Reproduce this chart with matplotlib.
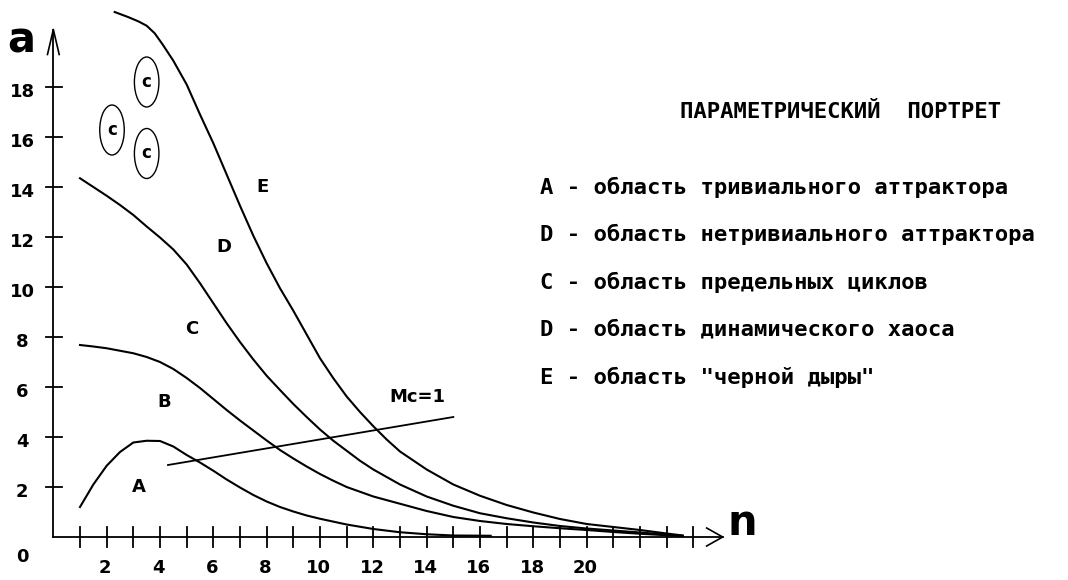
import matplotlib.pyplot as plt
from matplotlib.patches import Ellipse

# --- data (n along x, a along y) ---
n_A = [1.0, 1.5, 2.0, 2.5, 3.0, 3.5, 4.0, 4.5, 5.0, 5.5, 6.0, 6.5, 7.0, 7.5, 8.0,
       8.5, 9.0, 9.5, 10.0, 11.0, 12.0, 13.0, 14.0, 15.0, 16.4]
a_A = [1.2, 2.1, 2.85, 3.4, 3.78, 3.85, 3.84, 3.62, 3.28, 2.98, 2.65, 2.3, 1.98, 1.68, 1.42,
       1.2, 1.02, 0.86, 0.73, 0.5, 0.32, 0.19, 0.11, 0.06, 0.05]

n_B = [1.0, 1.5, 2.0, 2.5, 3.0, 3.5, 4.0, 4.5, 5.0, 5.5, 6.0, 6.5, 7.0, 7.5, 8.0, 8.5,
       9.0, 9.5, 10.0, 10.5, 11.0, 12.0, 13.0, 14.0, 15.0, 16.0, 17.0, 18.0, 19.0, 20.0,
       21.0, 22.0, 23.0, 23.6]
a_B = [7.68, 7.62, 7.55, 7.45, 7.35, 7.2, 7.0, 6.72, 6.36, 5.96, 5.52, 5.08, 4.66, 4.26, 3.86, 3.48,
       3.14, 2.82, 2.52, 2.25, 2.0, 1.62, 1.33, 1.04, 0.8, 0.64, 0.52, 0.43, 0.35, 0.28,
       0.2, 0.13, 0.07, 0.04]

n_C = [1.0, 1.5, 2.0, 2.5, 3.0, 3.5, 4.0, 4.5, 5.0, 5.5, 6.0, 6.5, 7.0, 7.5, 8.0, 8.5,
       9.0, 9.5, 10.0, 10.5, 11.0, 11.5, 12.0, 13.0, 14.0, 15.0, 16.0, 17.0, 18.0, 19.0,
       20.0, 21.0, 22.0, 23.0, 23.6]
a_C = [14.35, 14.0, 13.65, 13.28, 12.88, 12.42, 11.98, 11.5, 10.9, 10.15, 9.35, 8.55, 7.8, 7.1, 6.45, 5.88,
       5.32, 4.8, 4.3, 3.85, 3.45, 3.05, 2.7, 2.1, 1.62, 1.25, 0.95, 0.75, 0.58, 0.44,
       0.34, 0.26, 0.18, 0.1, 0.05]

n_E = [2.3, 2.8, 3.2, 3.5, 3.8, 4.1, 4.5, 5.0, 5.5, 6.0, 6.5, 7.0, 7.5, 8.0, 8.5, 9.0, 9.5, 10.0,
       10.5, 11.0, 11.5, 12.0, 12.5, 13.0, 14.0, 15.0, 16.0, 17.0, 18.0, 19.0, 20.0, 21.0, 22.0,
       23.0, 23.6]
a_E = [21.0, 20.8, 20.62, 20.45, 20.15, 19.7, 19.05, 18.1, 16.9, 15.75, 14.5, 13.25, 12.05, 10.95,
       9.95, 9.05, 8.1, 7.15, 6.35, 5.62, 5.0, 4.43, 3.9, 3.42, 2.7, 2.1, 1.65, 1.28, 0.98, 0.72,
       0.52, 0.4, 0.28, 0.14, 0.06]

n_Mc = [4.3, 15.0]
a_Mc = [2.88, 4.8]

x_ticks = list(range(1, 25))
x_labels = [2, 4, 6, 8, 10, 12, 14, 16, 18, 20]
y_labels = [2, 4, 6, 8, 10, 12, 14, 16, 18]

regions = ['A', 'B', 'C', 'D', 'E']
region_n = [3.2, 4.15, 5.2, 6.38, 7.84]
region_a = [2.0, 5.4, 8.3, 11.6, 14.0]

cycles_n = [3.5, 2.2, 3.5]
cycles_a = [18.2, 16.28, 15.34]

title = 'ПАРАМЕТРИЧЕСКИЙ  ПОРТРЕТ'
legend_lines = [
    'A - область тривиального аттрактора',
    'D - область нетривиального аттрактора',
    'C - область предельных циклов',
    'D - область динамического хаоса',
    'E - область "черной дыры"',
]

fig = plt.figure(figsize=(10.68, 5.8), dpi=100)
ax = fig.add_axes([0, 0, 1, 1])
ax.set_xlim(-2.0, 38.05)
ax.set_ylim(-1.72, 21.48)
ax.axis('off')

# axes with arrows
ax.plot([0, 25.1], [0, 0], 'k', lw=1.3)
ax.plot([0, 0], [0, 20.3], 'k', lw=1.3)
ax.plot([24.5, 25.1, 24.5], [0.36, 0, -0.36], 'k', lw=1.2)
ax.plot([-0.22, 0, 0.22], [19.3, 20.3, 19.3], 'k', lw=1.2)

for t in x_ticks:
    ax.plot([t, t], [-0.4, 0.4], 'k', lw=1.3)
for t in y_labels:
    ax.plot([-0.27, 0.33], [t, t], 'k', lw=1.3)

tick_font = dict(fontsize=13, fontweight='bold', family='DejaVu Sans')
for t in x_labels:
    ax.text(t - 0.05, -1.24, str(t), ha='center', va='center', **tick_font)
for t in y_labels:
    ax.text(-1.17, t - 0.2, str(t), ha='center', va='center', **tick_font)
ax.text(-1.17, -0.8, '0', ha='center', va='center', **tick_font)

ax.text(-1.2, 19.85, 'a', ha='center', va='center', fontsize=30, fontweight='heavy')
ax.text(25.85, 0.55, 'n', ha='center', va='center', fontsize=30, fontweight='heavy')

# curves
for nn, aa in [(n_A, a_A), (n_B, a_B), (n_C, a_C), (n_E, a_E)]:
    ax.plot(nn, aa, 'k', lw=1.5)
ax.plot(n_Mc, a_Mc, 'k', lw=1.3)
ax.text(13.65, 5.6, 'Mc=1', ha='center', va='center', **tick_font)

for lab, x, y in zip(regions, region_n, region_a):
    ax.text(x, y, lab, ha='center', va='center', **tick_font)

for x, y in zip(cycles_n, cycles_a):
    ax.add_patch(Ellipse((x, y), 0.92, 2.0, fill=False, ec='k', lw=1.0))
    ax.text(x, y, 'c', ha='center', va='center', fontsize=12, fontweight='bold')

# legend text block
mono = dict(family='DejaVu Sans Mono', fontweight='bold', fontsize=16)
ax.text(29.5, 16.98, title, ha='center', va='center', **mono)
for i, line in enumerate(legend_lines):
    ax.text(18.25, 14.0 - i * 1.9, line, ha='left', va='center', **mono)

fig.savefig('out.png', dpi=100)
